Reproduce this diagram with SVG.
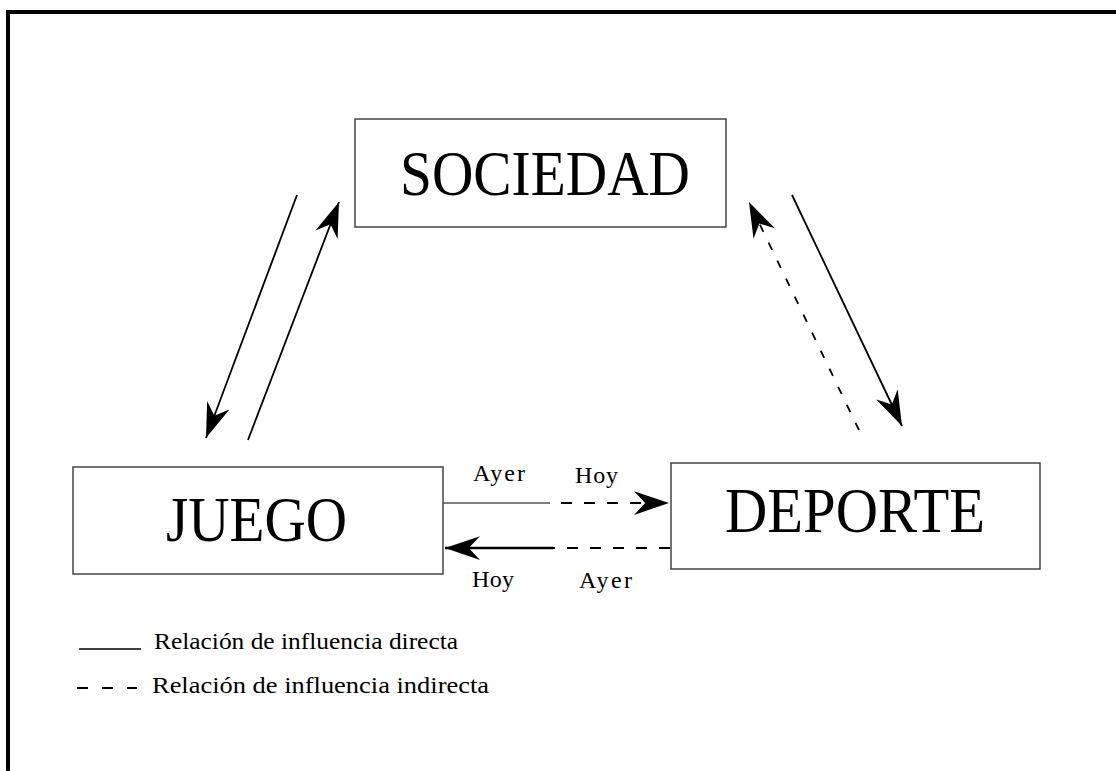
<svg xmlns="http://www.w3.org/2000/svg" width="1116" height="771" viewBox="0 0 1116 771">
<defs>
<style>
.box{fill:#fff;stroke:#444;stroke-width:1.5}
.big{font-family:"Liberation Serif","Times New Roman",serif;font-size:63px;fill:#000}
.lbl{font-family:"Liberation Serif","Times New Roman",serif;font-size:24px;fill:#000}
.ln{fill:none;stroke:#000;stroke-width:1.8}
.dash{fill:none;stroke:#000;stroke-width:2.2;stroke-dasharray:11 12}
</style>
<marker id="ah" markerUnits="userSpaceOnUse" markerWidth="40" markerHeight="40" viewBox="-30 -12 32 24" refX="0" refY="0" orient="auto">
<path d="M0,0 L-28,-9.5 L-19,0 L-28,9.5 Z" fill="#000"/>
</marker>
</defs>
<rect width="1116" height="771" fill="#fff"/>
<path d="M8,771 V12 H1116" fill="none" stroke="#000" stroke-width="4"/>
<g id="sociedad">
<rect class="box" x="355" y="119" width="371" height="108"/>
<text class="big" x="400" y="195" textLength="290" lengthAdjust="spacingAndGlyphs">SOCIEDAD</text>
</g>
<g id="juego">
<rect class="box" x="73" y="467" width="370" height="107"/>
<text class="big" x="166" y="541" textLength="181" lengthAdjust="spacingAndGlyphs">JUEGO</text>
</g>
<g id="deporte">
<rect class="box" x="671" y="463" width="369" height="106"/>
<text class="big" x="725" y="532" textLength="260" lengthAdjust="spacingAndGlyphs">DEPORTE</text>
</g>
<g id="connectors">
<path class="ln" d="M297,195 L206,438" marker-end="url(#ah)"/>
<path class="ln" d="M248,440 L339,202" marker-end="url(#ah)"/>
<path class="ln" d="M792,195 L902,426" marker-end="url(#ah)"/>
<path class="ln" d="M859,430 L749,202" stroke-dasharray="8 12" marker-end="url(#ah)"/>
<path d="M443,503 H550" fill="none" stroke="#555" stroke-width="1.3"/>
<path class="dash" d="M561,503 H669" marker-end="url(#ah)"/>
<path class="dash" d="M670,548 H553"/>
<path d="M553,548 H445" fill="none" stroke="#000" stroke-width="2.5" marker-end="url(#ah)"/>
</g>
<g id="labels">
<text class="lbl" x="473" y="481" textLength="52" lengthAdjust="spacing">Ayer</text>
<text class="lbl" x="575" y="483" textLength="43" lengthAdjust="spacing">Hoy</text>
<text class="lbl" x="472" y="587" textLength="42" lengthAdjust="spacing">Hoy</text>
<text class="lbl" x="579" y="588" textLength="53" lengthAdjust="spacing">Ayer</text>
</g>
<g id="legend">
<path d="M79,649 H141" fill="none" stroke="#000" stroke-width="1.3"/>
<text class="lbl" x="154" y="649" textLength="304" lengthAdjust="spacingAndGlyphs">Relación de influencia directa</text>
<path d="M77,688 H137" fill="none" stroke="#000" stroke-width="2" stroke-dasharray="11 14"/>
<text class="lbl" x="152" y="693" textLength="337" lengthAdjust="spacingAndGlyphs">Relación de influencia indirecta</text>
</g>
</svg>
